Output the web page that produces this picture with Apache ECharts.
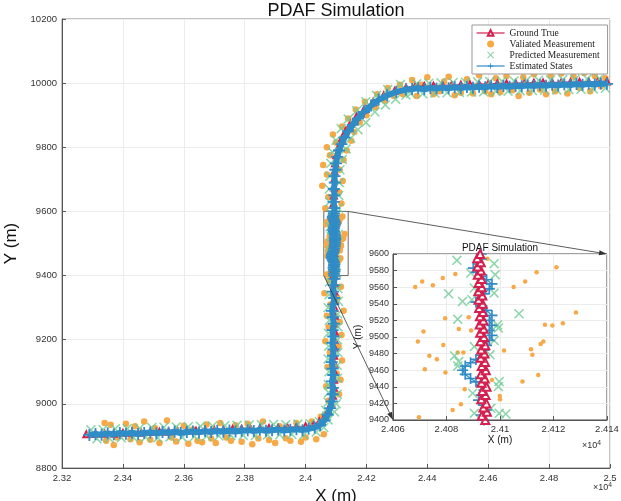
<!DOCTYPE html>
<html>
<head>
<meta charset="utf-8">
<title>PDAF Simulation</title>
<script src="https://cdn.jsdelivr.net/npm/echarts@6.0.0/dist/echarts.min.js"></script>
<style>
  html, body { margin: 0; padding: 0; background: #fff; }
  #chart { width: 621px; height: 501px; }
</style>
</head>
<body>
<div id="chart"></div>
<script>
// axis ranges (metres)
const xRange = [23200, 25000];
const yRange = [8800, 10200];
const zoomX = [24060, 24140];
const zoomY = [9400, 9600];

// ground truth, split around the zoomed window
const truthLow = [
  [23280, 8905], [23310, 8906], [23340, 8907], [23370, 8907], [23400, 8909], [23430, 8910], [23460, 8910],
  [23490, 8912], [23520, 8913], [23550, 8913], [23580, 8915], [23610, 8916], [23640, 8916], [23670, 8918],
  [23700, 8919], [23730, 8919], [23760, 8921], [23790, 8922], [23820, 8922], [23850, 8924], [23880, 8925],
  [23910, 8925], [23940, 8927], [23970, 8928], [24000, 8930], [24025, 8935], [24045, 8945], [24062, 8960],
  [24075, 8980], [24084, 9002], [24090, 9025], [24093, 9050], [24094, 9075], [24094, 9100], [24095, 9125],
  [24094, 9150], [24095, 9175], [24095, 9200], [24096, 9225], [24095, 9250], [24096, 9275], [24095, 9300],
  [24096, 9325], [24095, 9350], [24095, 9375]
];
const truthZoom = [
  [24094.5, 9400], [24093.2, 9405], [24095.1, 9410], [24093.8, 9415], [24094.9, 9420], [24093.0, 9425],
  [24094.6, 9430], [24093.4, 9435], [24095.0, 9440], [24093.1, 9445], [24094.3, 9450], [24092.9, 9455],
  [24094.7, 9460], [24093.2, 9465], [24094.4, 9470], [24092.8, 9475], [24094.2, 9480], [24093.0, 9485],
  [24094.5, 9490], [24092.7, 9495], [24094.0, 9500], [24092.6, 9505], [24093.9, 9510], [24092.4, 9515],
  [24093.8, 9520], [24092.5, 9525], [24093.6, 9530], [24092.2, 9535], [24093.5, 9540], [24092.0, 9545],
  [24093.4, 9550], [24091.9, 9555], [24093.2, 9560], [24092.0, 9565], [24093.1, 9570], [24091.7, 9575],
  [24092.9, 9580], [24091.6, 9585], [24092.8, 9590], [24091.5, 9595], [24092.6, 9600]
];
const truthHigh = [
  [24092, 9625], [24093, 9650], [24093, 9675], [24094, 9700], [24095, 9725], [24097, 9750], [24101, 9775],
  [24108, 9800], [24118, 9825], [24131, 9850], [24147, 9873], [24167, 9895], [24192, 9918], [24222, 9942],
  [24257, 9962], [24293, 9976], [24330, 9986], [24360, 9990], [24390, 9991], [24420, 9992], [24450, 9993],
  [24480, 9994], [24510, 9995], [24540, 9996], [24570, 9997], [24600, 9998], [24630, 9999], [24660, 9999],
  [24690, 10000], [24720, 10001], [24750, 10001], [24780, 10002], [24810, 10002], [24840, 10003],
  [24870, 10003], [24900, 10004], [24930, 10004], [24960, 10005], [24990, 10005]
];

// estimated states
const estLow = [
  [23290, 8903], [23310, 8906], [23330, 8904], [23350, 8908], [23370, 8905], [23390, 8909], [23410, 8907],
  [23430, 8910], [23450, 8906], [23470, 8909], [23490, 8911], [23510, 8908], [23530, 8912], [23550, 8910],
  [23570, 8913], [23590, 8909], [23610, 8912], [23630, 8914], [23650, 8911], [23670, 8915], [23690, 8912],
  [23710, 8916], [23730, 8913], [23750, 8917], [23770, 8914], [23790, 8916], [23810, 8918], [23830, 8915],
  [23850, 8919], [23870, 8916], [23890, 8918], [23910, 8920], [23930, 8917], [23950, 8919], [23970, 8921],
  [23990, 8918], [24010, 8922], [24030, 8926], [24048, 8934], [24062, 8948], [24073, 8966], [24081, 8987],
  [24086, 9008], [24089, 9030], [24090, 9050], [24087, 9070], [24091, 9090], [24089, 9110], [24086, 9130],
  [24090, 9150], [24092, 9170], [24088, 9190], [24091, 9210], [24089, 9230], [24093, 9250], [24090, 9270],
  [24087, 9290], [24091, 9310], [24094, 9330], [24090, 9350], [24092, 9370], [24095, 9390]
];
const estZoom = [
  [24094, 9400], [24093, 9406], [24095, 9412], [24094, 9418], [24092, 9424], [24093, 9430], [24094, 9436],
  [24093, 9442], [24091, 9446], [24089, 9450], [24087, 9455], [24086, 9460], [24087, 9465], [24089, 9469],
  [24091, 9473], [24093, 9478], [24094, 9484], [24095, 9490], [24096, 9496], [24097, 9502], [24096, 9508],
  [24097, 9514], [24096, 9520], [24097, 9526], [24095, 9532], [24093, 9538], [24091, 9542], [24093, 9547],
  [24094, 9552], [24096, 9558], [24097, 9564], [24095, 9569], [24093, 9573], [24091, 9578], [24090, 9583],
  [24092, 9588], [24093, 9594], [24093, 9600]
];
const estHigh = [
  [24095, 9610], [24092, 9630], [24095, 9650], [24093, 9670], [24096, 9690], [24095, 9710], [24098, 9730],
  [24100, 9750], [24104, 9770], [24110, 9790], [24118, 9810], [24128, 9830], [24140, 9850], [24155, 9870],
  [24172, 9890], [24192, 9910], [24215, 9930], [24240, 9948], [24268, 9962], [24298, 9973], [24330, 9980],
  [24350, 9982], [24370, 9984], [24390, 9981], [24410, 9985], [24430, 9983], [24450, 9986], [24470, 9984],
  [24490, 9987], [24510, 9985], [24530, 9988], [24550, 9986], [24570, 9989], [24590, 9987], [24610, 9990],
  [24630, 9988], [24650, 9991], [24670, 9989], [24690, 9992], [24710, 9990], [24730, 9993], [24750, 9991],
  [24770, 9994], [24790, 9992], [24810, 9995], [24830, 9993], [24850, 9996], [24870, 9994], [24890, 9997],
  [24910, 9995], [24930, 9998], [24950, 9996], [24970, 9999], [24990, 9998]
];

// predicted measurements
const predLow = [
  [23295, 8919], [23315, 8891], [23335, 8920], [23355, 8893], [23375, 8922], [23395, 8894], [23415, 8923],
  [23435, 8895], [23455, 8924], [23475, 8896], [23495, 8926], [23515, 8894], [23535, 8927], [23555, 8897],
  [23575, 8928], [23595, 8896], [23615, 8929], [23635, 8898], [23655, 8930], [23675, 8899], [23695, 8931],
  [23715, 8900], [23735, 8932], [23755, 8901], [23775, 8933], [23795, 8902], [23815, 8934], [23835, 8901],
  [23855, 8935], [23875, 8903], [23895, 8936], [23915, 8904], [23935, 8935], [23955, 8905], [23975, 8937],
  [23995, 8904], [24015, 8938], [24035, 8912], [24045, 8945], [24060, 8926], [24070, 8962], [24074, 8950],
  [24066, 8980], [24095, 8975], [24074, 9005], [24101, 9000], [24076, 9035], [24104, 9030], [24075, 9060],
  [24105, 9080], [24077, 9100], [24104, 9120], [24074, 9140], [24106, 9160], [24076, 9180], [24105, 9200],
  [24075, 9220], [24107, 9240], [24078, 9260], [24106, 9280], [24074, 9300], [24108, 9320], [24077, 9340],
  [24106, 9360], [24078, 9380]
];
const predZoom = [
  [24090.4, 9408.1], [24099.7, 9408.1], [24102.2, 9407.2], [24096.6, 9414.1], [24093.5, 9428.2],
  [24089.8, 9432.2], [24099.4, 9440.3], [24099.7, 9446.3], [24084.2, 9465.2], [24084.6, 9470.4],
  [24083.0, 9477.3], [24096.3, 9478.5], [24090.4, 9488.5], [24097.8, 9495.8], [24099.4, 9510.7],
  [24099.1, 9514.7], [24084.2, 9521.5], [24107.1, 9528.0], [24089.5, 9544.9], [24086.0, 9542.9],
  [24080.8, 9552.1], [24097.8, 9552.9], [24090.4, 9559.0], [24098.2, 9575.1], [24089.1, 9577.1],
  [24097.8, 9588.3], [24083.9, 9592.4]
];
const predHigh = [
  [24108, 9610], [24079, 9630], [24109, 9650], [24078, 9670], [24111, 9690], [24080, 9710], [24113, 9730],
  [24083, 9750], [24121, 9762], [24088, 9785], [24133, 9795], [24100, 9822], [24148, 9828], [24117, 9858],
  [24172, 9855], [24140, 9888], [24198, 9877], [24168, 9914], [24228, 9910], [24198, 9942], [24262, 9932],
  [24233, 9962], [24296, 9950], [24270, 9980], [24330, 9963], [24312, 9996], [24345, 9968], [24365, 9998],
  [24385, 9967], [24405, 10000], [24425, 9969], [24445, 10001], [24465, 9970], [24485, 10002], [24505, 9971],
  [24525, 10003], [24545, 9972], [24565, 10004], [24585, 9973], [24605, 10005], [24625, 9974], [24645, 10006],
  [24665, 9975], [24685, 10007], [24705, 9976], [24725, 10008], [24745, 9977], [24765, 10009], [24785, 9978],
  [24805, 10010], [24825, 9979], [24845, 10011], [24865, 9980], [24885, 10012], [24905, 9981], [24925, 10013],
  [24945, 9982], [24965, 10014], [24985, 9984]
];

// validated measurements
const measLow = [
  [23340, 8940], [23345, 8885], [23360, 8935], [23370, 8872], [23380, 8895], [23410, 8938], [23425, 8890],
  [23440, 8930], [23455, 8880], [23470, 8945], [23490, 8888], [23505, 8925], [23520, 8878], [23545, 8948],
  [23560, 8895], [23575, 8883], [23600, 8932], [23615, 8876], [23630, 8920], [23645, 8885], [23660, 8880],
  [23675, 8936], [23690, 8892], [23705, 8878], [23720, 8940], [23740, 8895], [23755, 8885], [23770, 8933],
  [23790, 8882], [23810, 8938], [23825, 8874], [23845, 8892], [23860, 8945], [23880, 8887], [23900, 8878],
  [23915, 8930], [23935, 8893], [23950, 8885], [23970, 8940], [23985, 8882], [24000, 8895], [24020, 8945],
  [24035, 8890], [24050, 8960], [24060, 8905], [24075, 9010], [24110, 9030], [24068, 9055], [24115, 9075],
  [24102, 9095], [24072, 9115], [24120, 9135], [24080, 9160], [24108, 9180], [24065, 9195], [24118, 9215],
  [24076, 9240], [24112, 9255], [24070, 9275], [24125, 9290], [24082, 9310], [24105, 9330], [24062, 9345],
  [24116, 9365], [24078, 9385]
];
const measZoom = [
  [24069.7, 9403.2], [24082.3, 9412.0], [24085.4, 9418.9], [24100.0, 9425.0], [24099.9, 9429.0],
  [24086.8, 9437.0], [24108.4, 9446.3], [24097.0, 9448.3], [24114.3, 9454.3], [24079.6, 9457.1],
  [24071.9, 9461.2], [24076.4, 9473.2], [24073.6, 9477.3], [24112.1, 9478.5], [24084.2, 9481.3],
  [24086.3, 9481.3], [24101.5, 9483.7], [24111.6, 9485.3], [24078.8, 9490.5], [24115.2, 9491.7],
  [24069.3, 9494.6], [24116.2, 9494.6], [24071.4, 9506.6], [24089.2, 9507.8], [24084.6, 9509.5],
  [24119.6, 9513.9], [24116.8, 9514.7], [24123.5, 9516.7], [24079.5, 9522.7], [24088.3, 9523.9],
  [24128.4, 9529.6], [24068.3, 9560.2], [24105.1, 9560.2], [24074.9, 9562.2], [24070.9, 9567.0],
  [24109.4, 9567.0], [24078.6, 9571.0], [24083.3, 9575.9], [24113.7, 9577.9], [24121.1, 9583.9],
  [24095.3, 9594.4]
];
const measHigh = [
  [24065, 9610], [24118, 9625], [24075, 9645], [24110, 9660], [24055, 9680], [24122, 9695], [24070, 9715],
  [24112, 9730], [24058, 9745], [24125, 9760], [24080, 9775], [24135, 9790], [24070, 9800], [24100, 9815],
  [24150, 9820], [24090, 9840], [24160, 9848], [24120, 9865], [24178, 9878], [24140, 9890], [24200, 9900],
  [24165, 9918], [24230, 9925], [24195, 9942], [24260, 9945], [24235, 9965], [24290, 9960], [24270, 9985],
  [24320, 9965], [24310, 9995], [24350, 10010], [24365, 9960], [24380, 9995], [24400, 10018], [24420, 9965],
  [24440, 9975], [24455, 10005], [24470, 10020], [24490, 9962], [24510, 9970], [24530, 10012], [24550, 9968],
  [24570, 10025], [24590, 9975], [24610, 9965], [24625, 10015], [24640, 9972], [24660, 10022], [24680, 9978],
  [24700, 9960], [24715, 10018], [24735, 9970], [24750, 10028], [24770, 9980], [24790, 9965], [24805, 10024],
  [24820, 9975], [24840, 10030], [24860, 9968], [24880, 10020], [24900, 9985], [24915, 10032], [24935, 9975],
  [24950, 10022], [24970, 9990], [24985, 10015]
];

const truth = truthLow.concat(truthZoom, truthHigh);
const est = estLow.concat(estZoom, estHigh);
const pred = predLow.concat(predZoom, predHigh);
const meas = measLow.concat(measZoom, measHigh);

const colors = { truth: '#d41f4f', meas: '#f8a845', pred: '#70cb96', est: '#2f8cc6' };
const sans = 'Liberation Sans';
const PLUS = 'path://M0,4.25H10V5.75H0Z M4.25,0H5.75V10H4.25Z';
const CROSS = 'path://M1.1,0L5,3.9L8.9,0L10,1.1L6.1,5L10,8.9L8.9,10L5,6.1L1.1,10L0,8.9L3.9,5L0,1.1Z';
const fmt4 = (v) => String(parseFloat((v / 1e4).toFixed(4)));
const plain = (v) => String(v);

const chartDom = document.getElementById('chart');
const myChart = echarts.init(chartDom);

function axisStyle() {
  return {
    axisLine: { show: true, onZero: false, lineStyle: { color: '#555', width: 1 } },
    axisTick: { show: true, inside: true, length: 4, lineStyle: { color: '#555' } },
    splitLine: { show: true, lineStyle: { color: '#ececec', width: 1 } },
  };
}

function buildSeries(gi, inset) {
  const base = { xAxisIndex: gi, yAxisIndex: gi, clip: true, animation: false };
  const zb = inset ? 22 : 0;
  const list = [
    {
      ...base, name: 'Valiated Measurement', type: 'scatter', data: meas,
      symbol: 'circle', symbolSize: inset ? 4.5 : 6.5,
      itemStyle: { color: colors.meas, opacity: 1 }, z: zb + 1,
    },
    {
      ...base, name: 'Predicted Measurement', type: 'scatter', data: pred,
      symbol: CROSS, symbolSize: 10,
      itemStyle: { color: colors.pred }, z: zb + 3,
    },
    {
      ...base, name: 'Ground True', type: 'line', data: truth,
      symbol: 'emptyTriangle', symbolSize: inset ? 8 : 6, showAllSymbol: true,
      itemStyle: { color: colors.truth, borderWidth: inset ? 1.4 : 1 },
      lineStyle: { color: colors.truth, width: 1.2 }, z: zb + (inset ? 5 : 2),
    },
    {
      ...base, name: 'Estimated States', type: 'line', data: est,
      symbol: PLUS, symbolSize: inset ? 11 : 12, showAllSymbol: true,
      itemStyle: { color: colors.est },
      lineStyle: { color: colors.est, width: inset ? 1.2 : 6 }, z: zb + 4,
    },
  ];
  if (!inset) {
    list[0].markArea = {
      silent: true,
      itemStyle: { color: 'rgba(0,0,0,0)', borderColor: '#666', borderWidth: 1 },
      data: [[{ coord: [zoomX[0], zoomY[0]] }, { coord: [zoomX[1], zoomY[1]] }]],
    };
  }
  return list;
}

const option = {
  animation: false,
  backgroundColor: '#fff',
  title: [
    {
      text: 'PDAF Simulation', left: 336, top: 2, textAlign: 'center', padding: 0,
      textStyle: { fontFamily: sans, fontSize: 18, fontWeight: 'normal', color: '#111' },
    },
    {
      text: 'PDAF Simulation', left: 500, top: 243, textAlign: 'center', padding: 0, z: 25,
      textStyle: { fontFamily: sans, fontSize: 10, fontWeight: 'normal', color: '#111' },
    },
  ],
  legend: {
    data: ['Ground True', 'Valiated Measurement', 'Predicted Measurement', 'Estimated States'],
    orient: 'vertical', left: 472, top: 25,
    itemWidth: 28, itemHeight: 7, itemGap: 1,
    padding: [3, 8, 3, 4],
    lineStyle: { width: 1.2 },
    backgroundColor: '#fff', borderColor: '#999', borderWidth: 1,
    textStyle: { fontFamily: 'Liberation Serif', fontSize: 9.5, color: '#222' },
  },
  grid: [
    {
      left: 62, right: 11, top: 19, bottom: 33, containLabel: false, outerBoundsMode: 'none',
      show: true, borderColor: '#888', borderWidth: 1, backgroundColor: 'transparent',
    },
    {
      left: 393, right: 14, top: 254, bottom: 81, containLabel: false, outerBoundsMode: 'none',
      show: true, borderColor: '#444', borderWidth: 1, backgroundColor: '#fff', z: 20,
    },
  ],
  xAxis: [
    {
      ...axisStyle(), type: 'value', gridIndex: 0, min: xRange[0], max: xRange[1], interval: 200,
      name: 'X (m)', nameLocation: 'middle', nameGap: 11,
      nameTextStyle: { color: '#111', fontFamily: sans, fontSize: 17 },
      axisLabel: { color: '#333', fontSize: 9.5, fontFamily: sans, margin: 5, formatter: fmt4 },
    },
    {
      ...axisStyle(), type: 'value', gridIndex: 1, min: zoomX[0], max: zoomX[1], interval: 20, z: 21,
      name: 'X (m)', nameLocation: 'middle', nameGap: 13,
      nameTextStyle: { color: '#111', fontFamily: sans, fontSize: 10 },
      axisLabel: { color: '#333', fontSize: 9.5, fontFamily: sans, margin: 4, formatter: fmt4 },
    },
  ],
  yAxis: [
    {
      ...axisStyle(), type: 'value', gridIndex: 0, min: yRange[0], max: yRange[1], interval: 200,
      name: 'Y (m)', nameLocation: 'middle', nameGap: 34,
      nameTextStyle: { color: '#111', fontFamily: sans, fontSize: 17 },
      axisLabel: { color: '#333', fontSize: 9.5, fontFamily: sans, margin: 5, formatter: plain },
    },
    {
      ...axisStyle(), type: 'value', gridIndex: 1, min: zoomY[0], max: zoomY[1], interval: 20, z: 21,
      name: 'Y (m)', nameLocation: 'middle', nameGap: 30,
      nameTextStyle: { color: '#111', fontFamily: sans, fontSize: 10 },
      axisLabel: { color: '#333', fontSize: 9, fontFamily: sans, margin: 4, formatter: plain },
    },
  ],
  series: buildSeries(0, false).concat(buildSeries(1, true)),
};

myChart.setOption(option);

// zoom connectors + exponent labels, placed from the axes after layout
function arrowTo(p, q) {
  const dx = q[0] - p[0], dy = q[1] - p[1];
  const len = Math.hypot(dx, dy);
  const ux = dx / len, uy = dy / len;
  const L = 8, W = 2.6;
  const bx = q[0] - ux * L, by = q[1] - uy * L;
  return [
    { type: 'line', z: 30, shape: { x1: p[0], y1: p[1], x2: bx, y2: by }, style: { stroke: '#333', lineWidth: 0.8 } },
    { type: 'polygon', z: 30, shape: { points: [[q[0], q[1]], [bx - uy * W, by + ux * W], [bx + uy * W, by - ux * W]] }, style: { fill: '#333' } },
  ];
}

const a0 = myChart.convertToPixel({ gridIndex: 0 }, [zoomX[1], zoomY[1]]);
const a1 = myChart.convertToPixel({ gridIndex: 1 }, [zoomX[1], zoomY[1]]);
const b0 = myChart.convertToPixel({ gridIndex: 0 }, [zoomX[0], zoomY[0]]);
const b1 = myChart.convertToPixel({ gridIndex: 1 }, [zoomX[0], zoomY[0]]);

const expStyle = (size) => ({
  text: '×10{s|4}', fill: '#333', fontFamily: sans, fontSize: size,
  rich: { s: { fontSize: size * 0.75, verticalAlign: 'top', fontFamily: sans, fill: '#333', padding: [0, 0, 5, 0] } },
});

myChart.setOption({
  graphic: [
    ...arrowTo(a0, a1),
    ...arrowTo(b0, b1),
    { type: 'text', right: 9, top: 482, z: 30, style: expStyle(9) },
    { type: 'text', left: 582, top: 440, z: 30, style: expStyle(9) },
  ],
});
</script>
</body>
</html>
